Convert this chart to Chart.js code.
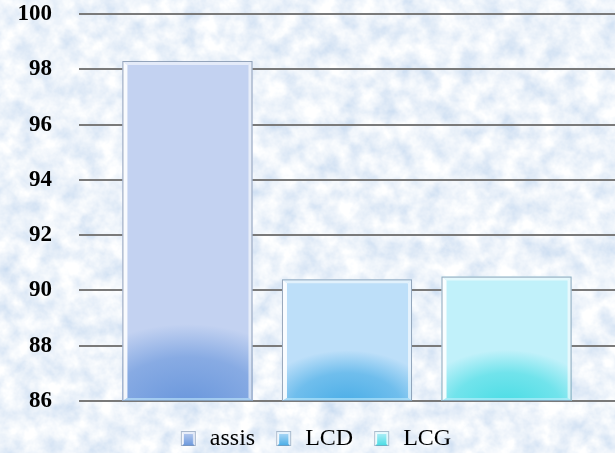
<!DOCTYPE html>
<html>
<head>
<meta charset="utf-8">
<script src="https://cdn.jsdelivr.net/npm/chart.js@4.4.1/dist/chart.umd.min.js"></script>
<style>
  html, body { margin: 0; padding: 0; }
  body { width: 615px; height: 453px; background-color: #d9e6f4; overflow: hidden; }
  #wrap { position: relative; width: 615px; height: 453px; }
</style>
</head>
<body>
<div id="wrap"><canvas id="chart" width="615" height="453"></canvas></div>
<script>
// ---- data ----
const categories = [''];
const seriesNames = ['assis', 'LCD', 'LCG'];
const assisValues = [98.3];
const lcdValues = [90.4];
const lcgValues = [90.5];
const yTicks = [86, 88, 90, 92, 94, 96, 98, 100];

// ---- look ----
const faceColors = ['#c3d2f1', '#bddff9', '#c1f1fa'];
const glowColors = ['104,150,220', '70,172,230', '70,220,228'];
const glowSpread = [1.0, 0.7, 0.7];

// mottled paper-like backdrop
(function () {
  const svg = "<svg xmlns='http://www.w3.org/2000/svg' width='615' height='453'>" +
    "<filter id='n' x='0' y='0' width='100%' height='100%'>" +
    "<feTurbulence type='fractalNoise' baseFrequency='0.05' numOctaves='4' seed='7'/>" +
    "<feColorMatrix type='matrix' values='0.6 0 0 0 0.55  0.42 0 0 0 0.69  0.18 0 0 0 0.87  0 0 0 0 1'/>" +
    "</filter><rect width='615' height='453' filter='url(#n)'/></svg>";
  document.body.style.backgroundImage = 'url("data:image/svg+xml,' + encodeURIComponent(svg) + '")';
})();

// small bevelled square used as the legend marker (transparent margin on the left
// gives the gap between legend entries)
function legendIcon(i) {
  const W = 34, H = 16, s = 15;
  const c = document.createElement('canvas');
  c.width = W; c.height = H;
  const g = c.getContext('2d');
  const l = W - s - 2, t = 0, r = l + s, b = s;
  g.fillStyle = faceColors[i];
  g.fillRect(l, t, s, s);
  const lg = g.createLinearGradient(0, t, 0, b);
  lg.addColorStop(0, 'rgba(' + glowColors[i] + ',0)');
  lg.addColorStop(1, 'rgba(' + glowColors[i] + ',1)');
  g.fillStyle = lg;
  g.fillRect(l + 2, t + 3, s - 4, s - 3);
  g.fillStyle = 'rgba(255,255,255,0.85)';
  g.beginPath(); g.moveTo(l, t); g.lineTo(l + 3, t + 3); g.lineTo(l + 3, b - 2); g.lineTo(l, b); g.closePath(); g.fill();
  g.fillStyle = 'rgba(255,255,255,0.6)';
  g.beginPath(); g.moveTo(l, t); g.lineTo(r, t); g.lineTo(r - 3, t + 3); g.lineTo(l + 3, t + 3); g.closePath(); g.fill();
  g.beginPath(); g.moveTo(r, t); g.lineTo(r - 3, t + 3); g.lineTo(r - 3, b - 2); g.lineTo(r, b); g.closePath(); g.fill();
  g.strokeStyle = 'rgba(130,150,175,0.6)';
  g.strokeRect(l + 0.5, t + 0.5, s - 1, s - 1);
  return c;
}
const legendIcons = seriesNames.map((_, i) => legendIcon(i));

// glossy bevel + bottom glow painted over each bar the library laid out
const barGloss = {
  id: 'barGloss',
  afterDatasetsDraw(chart) {
    const ctx = chart.ctx;
    const area = chart.chartArea;
    chart.data.datasets.forEach((ds, di) => {
      const meta = chart.getDatasetMeta(di);
      if (meta.hidden) return;
      meta.data.forEach(el => {
        const p = el.getProps(['x', 'y', 'base', 'width'], true);
        const left = p.x - p.width / 2, right = p.x + p.width / 2;
        const top = Math.max(Math.min(p.y, p.base), area.top);
        const bottom = Math.min(Math.max(p.y, p.base), area.bottom);
        const h = bottom - top, w = right - left;
        ctx.save();
        ctx.beginPath(); ctx.rect(left, top, w, h); ctx.clip();
        // bottom glow
        const ry = 42 + h * 0.12;
        const rx = w * glowSpread[di];
        ctx.save();
        ctx.translate(p.x, bottom + 6);
        ctx.scale(rx / ry, 1);
        const rg = ctx.createRadialGradient(0, 0, 0, 0, 0, ry);
        rg.addColorStop(0, 'rgba(' + glowColors[di] + ',1)');
        rg.addColorStop(0.6, 'rgba(' + glowColors[di] + ',0.65)');
        rg.addColorStop(1, 'rgba(' + glowColors[di] + ',0)');
        ctx.fillStyle = rg;
        ctx.fillRect(-ry * 2, -ry * 1.2, ry * 4, ry * 1.2);
        ctx.restore();
        // bevels
        const bl = 5, bt = 4, br = 4, bb = 3;
        ctx.fillStyle = 'rgba(255,255,255,0.9)';
        ctx.beginPath(); ctx.moveTo(left, top); ctx.lineTo(left + bl, top + bt); ctx.lineTo(left + bl, bottom - bb); ctx.lineTo(left, bottom); ctx.closePath(); ctx.fill();
        ctx.fillStyle = 'rgba(255,255,255,0.55)';
        ctx.beginPath(); ctx.moveTo(left, top); ctx.lineTo(right, top); ctx.lineTo(right - br, top + bt); ctx.lineTo(left + bl, top + bt); ctx.closePath(); ctx.fill();
        ctx.fillStyle = 'rgba(255,255,255,0.6)';
        ctx.beginPath(); ctx.moveTo(right, top); ctx.lineTo(right, bottom); ctx.lineTo(right - br, bottom - bb); ctx.lineTo(right - br, top + bt); ctx.closePath(); ctx.fill();
        ctx.fillStyle = 'rgba(200,240,255,0.55)';
        ctx.beginPath(); ctx.moveTo(left, bottom); ctx.lineTo(right, bottom); ctx.lineTo(right - br, bottom - bb); ctx.lineTo(left + bl, bottom - bb); ctx.closePath(); ctx.fill();
        ctx.restore();
        // outline
        ctx.save();
        ctx.strokeStyle = 'rgba(120,140,165,0.75)';
        ctx.lineWidth = 1;
        ctx.strokeRect(left + 0.5, top + 0.5, w - 1, h - 1);
        ctx.restore();
      });
    });
  }
};

const valueSets = [assisValues, lcdValues, lcgValues];

new Chart(document.getElementById('chart'), {
  type: 'bar',
  data: {
    labels: categories,
    datasets: seriesNames.map((name, i) => ({
      label: name,
      data: valueSets[i],
      backgroundColor: faceColors[i],
      borderWidth: 0,
      pointStyle: legendIcons[i],
      categoryPercentage: 0.893,
      barPercentage: 0.815
    }))
  },
  options: {
    responsive: false,
    animation: false,
    devicePixelRatio: 1,
    layout: { padding: { top: 14, right: 0, left: 0, bottom: -8 } },
    scales: {
      x: {
        display: true,
        grid: { display: false },
        border: { display: false },
        ticks: { display: false },
        afterFit: s => { s.height = 22; }
      },
      y: {
        min: 86,
        max: 100,
        afterBuildTicks: s => { s.ticks = yTicks.map(v => ({ value: v })); },
        ticks: {
          color: '#000',
          padding: 0,
          font: { family: "'Liberation Serif', serif", size: 23, weight: 'bold' }
        },
        grid: {
          color: '#7a7a7a', lineWidth: 2,
          drawTicks: true, tickLength: 27, tickColor: 'rgba(0,0,0,0)'
        },
        border: { display: false },
        afterFit: s => { s.width = 79; }
      }
    },
    plugins: {
      legend: {
        position: 'bottom',
        labels: {
          usePointStyle: true,
          pointStyleWidth: 34,
          padding: 4,
          color: '#000',
          font: { family: "'Liberation Serif', serif", size: 24 }
        }
      },
      tooltip: { enabled: false }
    }
  },
  plugins: [barGloss]
});
</script>
</body>
</html>
